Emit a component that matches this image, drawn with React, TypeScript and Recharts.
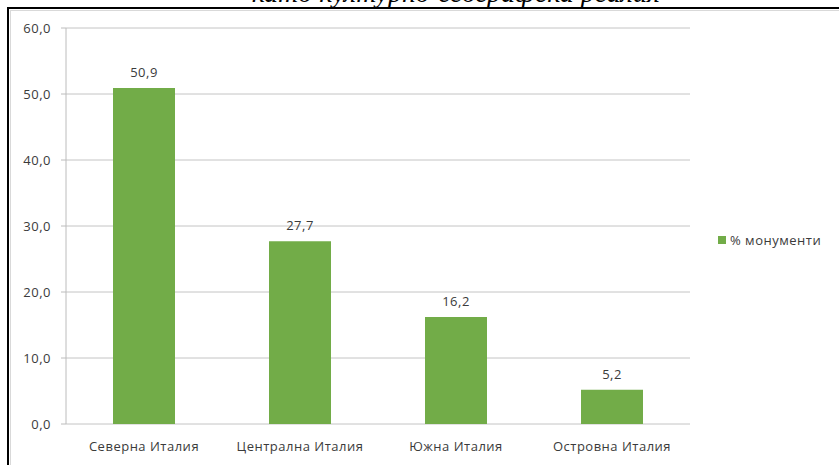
import React from "react";
import {
  BarChart,
  Bar,
  XAxis,
  YAxis,
  CartesianGrid,
  LabelList,
  Legend,
} from "recharts";

const regions = [
  "Северна Италия",
  "Централна Италия",
  "Южна Италия",
  "Островна Италия",
];
const monuments = [50.9, 27.7, 16.2, 5.2];
const yTicks = [0, 10, 20, 30, 40, 50, 60];
const edgeTicks = [0, 1, 2, 3, 4];
const seriesName = "% монументи";
const cutTitle = "като културно-географска реалия";

const data = regions.map((region, i) => ({ region, value: monuments[i] }));

const FONT = "'Open Sans', sans-serif";
const TEXT = "#3b3b3b";
const GREEN = "#72ac48";
const AXIS = "#bcbcbc";

const fmt = (v: number) => v.toFixed(1).replace(".", ",");

const renderLegend = () => (
  <div
    style={{
      display: "flex",
      alignItems: "center",
      fontFamily: FONT,
      fontSize: 13,
      letterSpacing: 0.5,
      color: TEXT,
    }}
  >
    <span
      style={{
        display: "inline-block",
        width: 8,
        height: 8,
        background: GREEN,
        marginRight: 4,
      }}
    />
    {seriesName}
  </div>
);

export default function App() {
  return (
    <div
      style={{
        position: "absolute",
        left: 0,
        top: 0,
        width: 839,
        height: 465,
        overflow: "hidden",
        background: "#fff",
      }}
    >
      <div
        style={{
          position: "absolute",
          left: 205,
          top: 0,
          width: 455,
          height: 7,
          overflow: "hidden",
        }}
      >
        <div
          style={{
            position: "absolute",
            right: 0,
            top: -22,
            whiteSpace: "nowrap",
            fontFamily: "'Liberation Serif', serif",
            fontStyle: "italic",
            fontSize: 28,
            lineHeight: "30px",
            color: "#000",
          }}
        >
          {cutTitle}
        </div>
      </div>
      <div
        style={{
          position: "absolute",
          left: 7,
          top: 7,
          width: 900,
          height: 500,
          borderLeft: "2.5px solid #000",
          borderTop: "2.5px solid #000",
        }}
      />
      <div
        style={{
          position: "absolute",
          left: 10,
          top: 10,
          width: 900,
          height: 500,
          borderLeft: "1px solid #d9d9d9",
          borderTop: "1px solid #d9d9d9",
        }}
      />
      <div style={{ position: "absolute", left: 0, top: 0 }}>
        <BarChart
          width={839}
          height={465}
          data={data}
          margin={{ top: 28, right: 149, bottom: 11, left: 0 }}
          barCategoryGap={0}
        >
          <CartesianGrid vertical={false} stroke="#c4c4c4" />
          <XAxis
            xAxisId="edges"
            type="number"
            domain={[0, 4]}
            ticks={edgeTicks}
            allowDataOverflow
            tick={false}
            height={0}
            tickSize={5}
            stroke={AXIS}
          />
          <XAxis
            dataKey="region"
            height={30}
            axisLine={false}
            tickLine={false}
            tickSize={5}
            tickMargin={13}
            tick={{
              fill: TEXT,
              fontFamily: FONT,
              fontSize: 13,
              letterSpacing: 0.5,
            }}
          />
          <YAxis
            width={66}
            domain={[0, 60]}
            ticks={yTicks}
            tickFormatter={fmt}
            tickSize={5}
            tickMargin={10}
            stroke={AXIS}
            tick={{
              fill: TEXT,
              fontFamily: FONT,
              fontSize: 13,
              letterSpacing: 0.5,
            }}
          />
          <Legend
            layout="horizontal"
            verticalAlign="middle"
            align="center"
            content={renderLegend}
            wrapperStyle={{ left: 718, top: 231, width: 120 }}
          />
          <Bar
            dataKey="value"
            name={seriesName}
            fill={GREEN}
            barSize={62}
            isAnimationActive={false}
          >
            <LabelList
              dataKey="value"
              position="top"
              offset={11}
              formatter={(v: any) => fmt(Number(v))}
              style={{
                fill: TEXT,
                fontFamily: FONT,
                fontSize: 13,
                letterSpacing: 0.5,
              }}
            />
          </Bar>
        </BarChart>
      </div>
    </div>
  );
}
